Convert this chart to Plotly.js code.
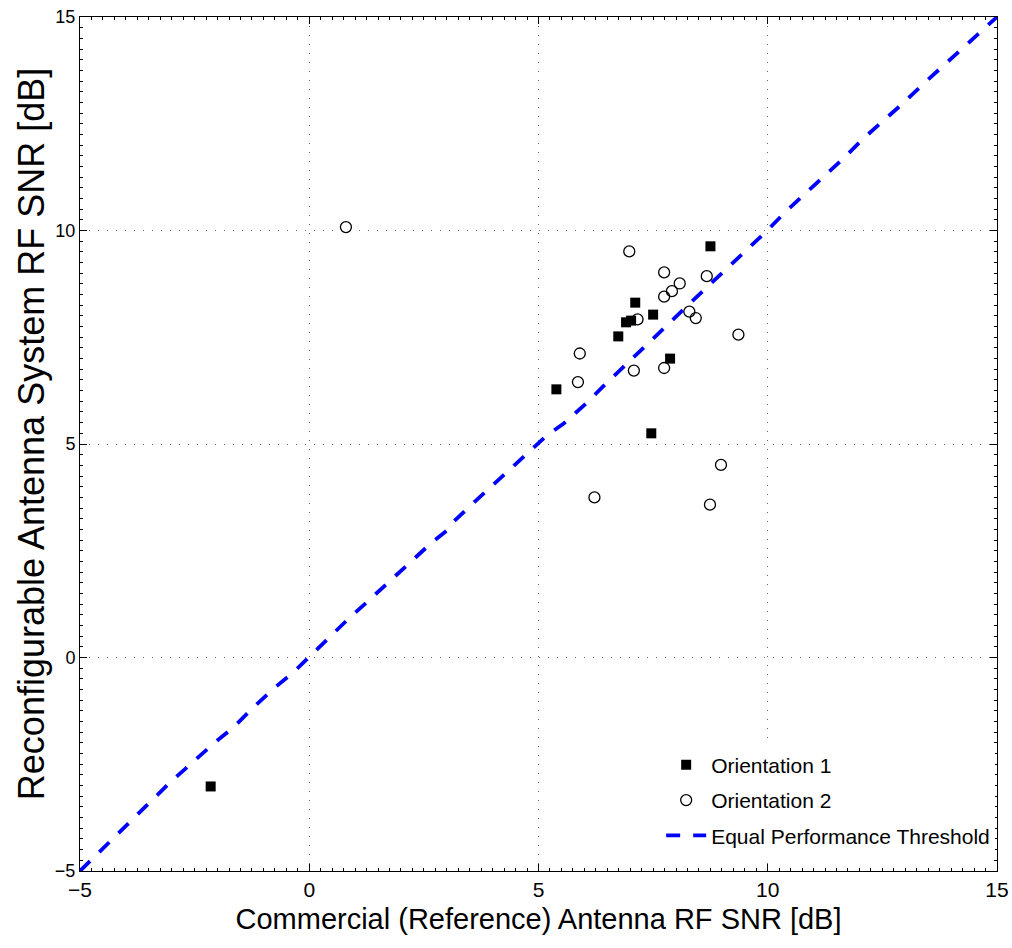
<!DOCTYPE html>
<html>
<head>
<meta charset="utf-8">
<script src="https://cdn.plot.ly/plotly-3.0.1.min.js"></script>
<style>html,body{margin:0;padding:0;background:#fff;}#chart{width:1012px;height:948px;}</style>
</head>
<body>
<div id="chart"></div>
<script>
// Orientation 1 (filled squares)
const o1X = [5.39, 6.74, 6.91, 7.02, 7.11, 7.50, 7.87, 7.46, 8.75, -2.15];
const o1Y = [6.28, 7.52, 7.85, 7.89, 8.31, 8.03, 7.00, 5.25, 9.63, -3.02];
// Orientation 2 (open circles)
const o2X = [6.98, 7.74, 8.67, 8.08, 7.91, 7.74, 7.16, 8.29, 8.43, 9.36, 5.90, 5.86, 7.08, 7.74, 8.98, 6.22, 8.74, 0.80];
const o2Y = [9.51, 9.02, 8.93, 8.76, 8.58, 8.45, 7.92, 8.10, 7.95, 7.56, 7.12, 6.45, 6.72, 6.78, 4.51, 3.75, 3.58, 10.08];
// Equal performance threshold (dashed)
const thrX = [-5, -4.28, -3.03, -2.09, -1.65, -1.21, -0.78, -0.34, 0, 0.39, 0.82, 1.26, 1.69, 2.13, 2.57, 2.68, 3.0, 3.11, 3.44, 3.88, 4.31, 4.75, 5.18, 5.55, 6.05, 6.42, 6.85, 7.29, 7.80, 8.24, 8.67, 9.11, 9.55, 9.98, 10.38, 10.82, 11.25, 11.69, 12.09, 12.53, 12.96, 13.40, 13.84, 14.27, 14.71, 15];
const thrY = [-5, -4.23, -2.92, -2.02, -1.63, -1.16, -0.73, -0.34, 0.01, 0.44, 0.87, 1.30, 1.73, 2.15, 2.58, 2.70, 2.97, 3.14, 3.48, 3.91, 4.34, 4.77, 5.20, 5.48, 5.96, 6.36, 6.80, 7.28, 7.80, 8.23, 8.67, 9.11, 9.55, 9.99, 10.43, 10.86, 11.30, 11.73, 12.16, 12.58, 12.99, 13.44, 13.87, 14.30, 14.72, 15];
const tickVals = [-5, 0, 5, 10, 15];
const tickText = ['\u22125', '0', '5', '10', '15'];
const names = ['Orientation 1', 'Orientation 2', 'Equal Performance Threshold'];
const xTitle = 'Commercial (Reference) Antenna RF SNR [dB]';
const yTitle = 'Reconfigurable Antenna System RF SNR [dB]';

const narrow = '"Liberation Sans Narrow", "Arial Narrow", "Liberation Sans", Arial, sans-serif';
const reg = '"Liberation Sans", Arial, sans-serif';

const traces = [
  {x: o1X, y: o1Y, mode: 'markers', type: 'scatter', name: names[0], legendgroup: 'a',
   marker: {symbol: 'square', size: 10, color: '#000', line: {width: 0}}},
  {x: o2X, y: o2Y, mode: 'markers', type: 'scatter', name: names[1], legendgroup: 'b',
   marker: {symbol: 'circle-open', size: 11, color: '#000', line: {width: 1.3, color: '#000'}}},
  {x: thrX, y: thrY, mode: 'lines', type: 'scatter', name: names[2], legendgroup: 'c',
   line: {color: '#0000ff', width: 3.8, dash: '14px,13px'}}
];

const axisCommon = {
  range: [-5, 15], tickvals: tickVals, ticktext: tickText,
  showline: true, linecolor: '#000', linewidth: 1, mirror: 'allticks',
  ticks: 'inside', ticklen: 7, tickcolor: '#000', tickwidth: 1,
  showgrid: true, gridcolor: '#666', gridwidth: 1, griddash: '1px,8px',
  zeroline: false,
  minor: {dtick: 0.25, ticks: 'inside', ticklen: 3, tickcolor: '#000', showgrid: false}
};

const layout = {
  width: 1012, height: 948,
  margin: {l: 80, r: 15, t: 17, b: 77},
  paper_bgcolor: '#fff', plot_bgcolor: '#fff',
  showlegend: true,
  xaxis: Object.assign({}, axisCommon, {
    tickfont: {family: narrow, size: 21, color: '#000'},
    title: {text: xTitle, font: {family: narrow, size: 29, color: '#000'}, standoff: 8}
  }),
  yaxis: Object.assign({}, axisCommon, {
    tickfont: {family: reg, size: 18, color: '#000'}
  }),
  annotations: [{
    text: yTitle, textangle: -90, showarrow: false,
    xref: 'paper', yref: 'paper', x: -0.053, y: 0.512, xanchor: 'center', yanchor: 'middle',
    font: {family: reg, size: 36, color: '#000'}
  }],
  legend: {
    x: 0.998, xanchor: 'right', y: 0.018, yanchor: 'bottom',
    bgcolor: '#fff', borderwidth: 0,
    font: {family: narrow, size: 21, color: '#000'},
    itemwidth: 40, tracegroupgap: 5
  }
};

Plotly.newPlot('chart', traces, layout, {displayModeBar: false, staticPlot: true});
</script>
</body>
</html>
